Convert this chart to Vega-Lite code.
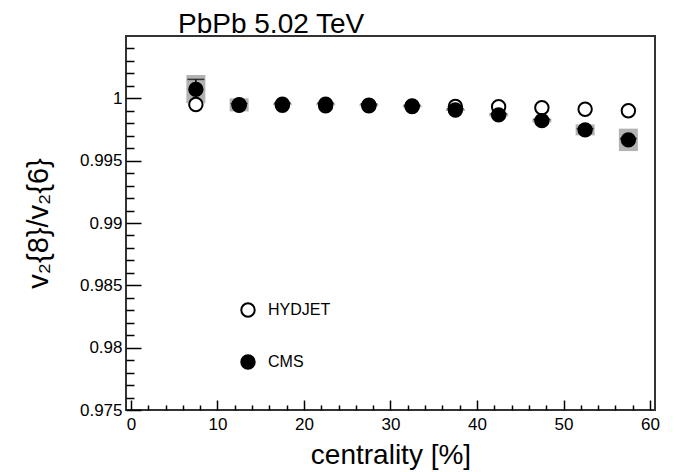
{
  "$schema": "https://vega.github.io/schema/vega-lite/v6.json",
  "width": 529,
  "height": 374,
  "autosize": {"type": "none"},
  "padding": {"left": 126, "top": 36, "right": 22, "bottom": 62},
  "background": "white",
  "config": {
    "font": "Liberation Sans",
    "view": {"stroke": "#333333", "strokeWidth": 2},
    "axis": {
      "grid": false,
      "domain": false,
      "tickColor": "black",
      "tickWidth": 1.5,
      "labelFont": "Liberation Sans",
      "labelFontSize": 17,
      "labelColor": "black",
      "labelOverlap": false,
      "labelBound": false,
      "titleFont": "Liberation Sans",
      "titleFontWeight": "normal",
      "titleColor": "black"
    }
  },
  "title": {
    "text": "PbPb 5.02 TeV",
    "anchor": "start",
    "frame": "group",
    "dx": 52,
    "offset": -3,
    "font": "Liberation Sans",
    "fontSize": 28,
    "fontWeight": "normal",
    "color": "black"
  },
  "resolve": {"axis": {"x": "independent", "y": "independent"}},
  "datasets": {
    "pts": [
      {"x": 7.5, "series": "HYDJET", "v": 0.9995},
      {"x": 12.5, "series": "HYDJET", "v": 0.99945},
      {"x": 17.5, "series": "HYDJET", "v": 0.99945},
      {"x": 22.5, "series": "HYDJET", "v": 0.9994},
      {"x": 27.5, "series": "HYDJET", "v": 0.9994},
      {"x": 32.5, "series": "HYDJET", "v": 0.99938},
      {"x": 37.5, "series": "HYDJET", "v": 0.99935},
      {"x": 42.5, "series": "HYDJET", "v": 0.99933},
      {"x": 47.5, "series": "HYDJET", "v": 0.99925},
      {"x": 52.5, "series": "HYDJET", "v": 0.99912},
      {"x": 57.5, "series": "HYDJET", "v": 0.99901},
      {"x": 7.5, "series": "CMS", "v": 1.00072},
      {"x": 12.5, "series": "CMS", "v": 0.99948},
      {"x": 17.5, "series": "CMS", "v": 0.99952},
      {"x": 22.5, "series": "CMS", "v": 0.99952},
      {"x": 27.5, "series": "CMS", "v": 0.99945},
      {"x": 32.5, "series": "CMS", "v": 0.99935},
      {"x": 37.5, "series": "CMS", "v": 0.99907},
      {"x": 42.5, "series": "CMS", "v": 0.99867},
      {"x": 47.5, "series": "CMS", "v": 0.99821},
      {"x": 52.5, "series": "CMS", "v": 0.99747},
      {"x": 57.5, "series": "CMS", "v": 0.99667}
    ],
    "cms": [
      {"x": 7.5, "syslo": 0.9996, "syshi": 1.00187, "statlo": 0.99992, "stathi": 1.00152},
      {"x": 12.5, "syslo": 0.99895, "syshi": 1.0, "statlo": 0.99938, "stathi": 0.99958},
      {"x": 17.5, "syslo": 0.99945, "syshi": 0.99959, "statlo": 0.99942, "stathi": 0.99962},
      {"x": 22.5, "syslo": 0.99945, "syshi": 0.99959, "statlo": 0.99942, "stathi": 0.99962},
      {"x": 27.5, "syslo": 0.99938, "syshi": 0.99952, "statlo": 0.99935, "stathi": 0.99955},
      {"x": 32.5, "syslo": 0.99928, "syshi": 0.99942, "statlo": 0.99925, "stathi": 0.99945},
      {"x": 37.5, "syslo": 0.99898, "syshi": 0.99916, "statlo": 0.99897, "stathi": 0.99917},
      {"x": 42.5, "syslo": 0.99855, "syshi": 0.99879, "statlo": 0.99857, "stathi": 0.99877},
      {"x": 47.5, "syslo": 0.99806, "syshi": 0.99836, "statlo": 0.99811, "stathi": 0.99831},
      {"x": 52.5, "syslo": 0.99703, "syshi": 0.99791, "statlo": 0.99737, "stathi": 0.99757},
      {"x": 57.5, "syslo": 0.99577, "syshi": 0.99757, "statlo": 0.99657, "stathi": 0.99677}
    ]
  },
  "layer": [
    {
      "data": {"name": "cms"},
      "mark": {"type": "bar", "size": 19, "color": "#b3b3b3"},
      "encoding": {
        "x": {
          "field": "x",
          "type": "quantitative",
          "scale": {"domain": [0, 60], "nice": false},
          "axis": {
            "orient": "bottom",
            "values": [0, 10, 20, 30, 40, 50, 60],
            "format": "d",
            "offset": -10,
            "tickSize": 10,
            "labelPadding": 6,
            "title": "centrality [%]",
            "titleFontSize": 28,
            "titlePadding": 9
          }
        },
        "y": {
          "field": "syslo",
          "type": "quantitative",
          "scale": {"domain": [0.975, 1.005], "zero": false, "nice": false},
          "axis": {
            "orient": "left",
            "values": [0.975, 0.98, 0.985, 0.99, 0.995, 1.0],
            "format": "~g",
            "offset": -15,
            "tickSize": 15,
            "labelPadding": 4,
            "title": "v₂{8}/v₂{6}",
            "titleFontSize": 29,
            "titlePadding": 26
          }
        },
        "y2": {"field": "syshi"}
      }
    },
    {
      "data": {"name": "cms"},
      "mark": {"type": "rule", "color": "black", "strokeWidth": 1.5},
      "encoding": {
        "x": {"field": "x", "type": "quantitative", "axis": null},
        "y": {"field": "statlo", "type": "quantitative", "axis": null},
        "y2": {"field": "stathi"}
      }
    },
    {
      "data": {"name": "cms"},
      "mark": {"type": "tick", "orient": "horizontal", "color": "black", "size": 17, "thickness": 1.5},
      "encoding": {
        "x": {"field": "x", "type": "quantitative", "axis": null},
        "y": {"field": "stathi", "type": "quantitative", "axis": null}
      }
    },
    {
      "data": {"name": "pts"},
      "mark": {"type": "point", "shape": "circle", "filled": true, "size": 180, "stroke": "black", "strokeWidth": 2, "opacity": 1},
      "encoding": {
        "x": {
          "field": "x",
          "type": "quantitative",
          "axis": {
            "orient": "bottom",
            "values": [2, 4, 6, 8, 12, 14, 16, 18, 22, 24, 26, 28, 32, 34, 36, 38, 42, 44, 46, 48, 52, 54, 56, 58],
            "offset": -5,
            "tickSize": 5,
            "labels": false,
            "title": null
          }
        },
        "y": {
          "field": "v",
          "type": "quantitative",
          "axis": {
            "orient": "left",
            "values": [0.976, 0.977, 0.978, 0.979, 0.981, 0.982, 0.983, 0.984, 0.986, 0.987, 0.988, 0.989, 0.991, 0.992, 0.993, 0.994, 0.996, 0.997, 0.998, 0.999, 1.001, 1.002, 1.003, 1.004],
            "offset": -8,
            "tickSize": 8,
            "labels": false,
            "title": null
          }
        },
        "fill": {
          "field": "series",
          "type": "nominal",
          "scale": {"domain": ["HYDJET", "CMS"], "range": ["white", "black"]},
          "legend": {
            "orient": "none",
            "legendX": 114,
            "legendY": 266,
            "title": null,
            "padding": 0,
            "symbolType": "circle",
            "symbolSize": 180,
            "symbolStrokeColor": "black",
            "symbolStrokeWidth": 2,
            "symbolOpacity": 1,
            "labelFont": "Liberation Sans",
            "labelFontSize": 16,
            "labelColor": "black",
            "labelOffset": 12,
            "rowPadding": 30
          }
        }
      }
    }
  ]
}
